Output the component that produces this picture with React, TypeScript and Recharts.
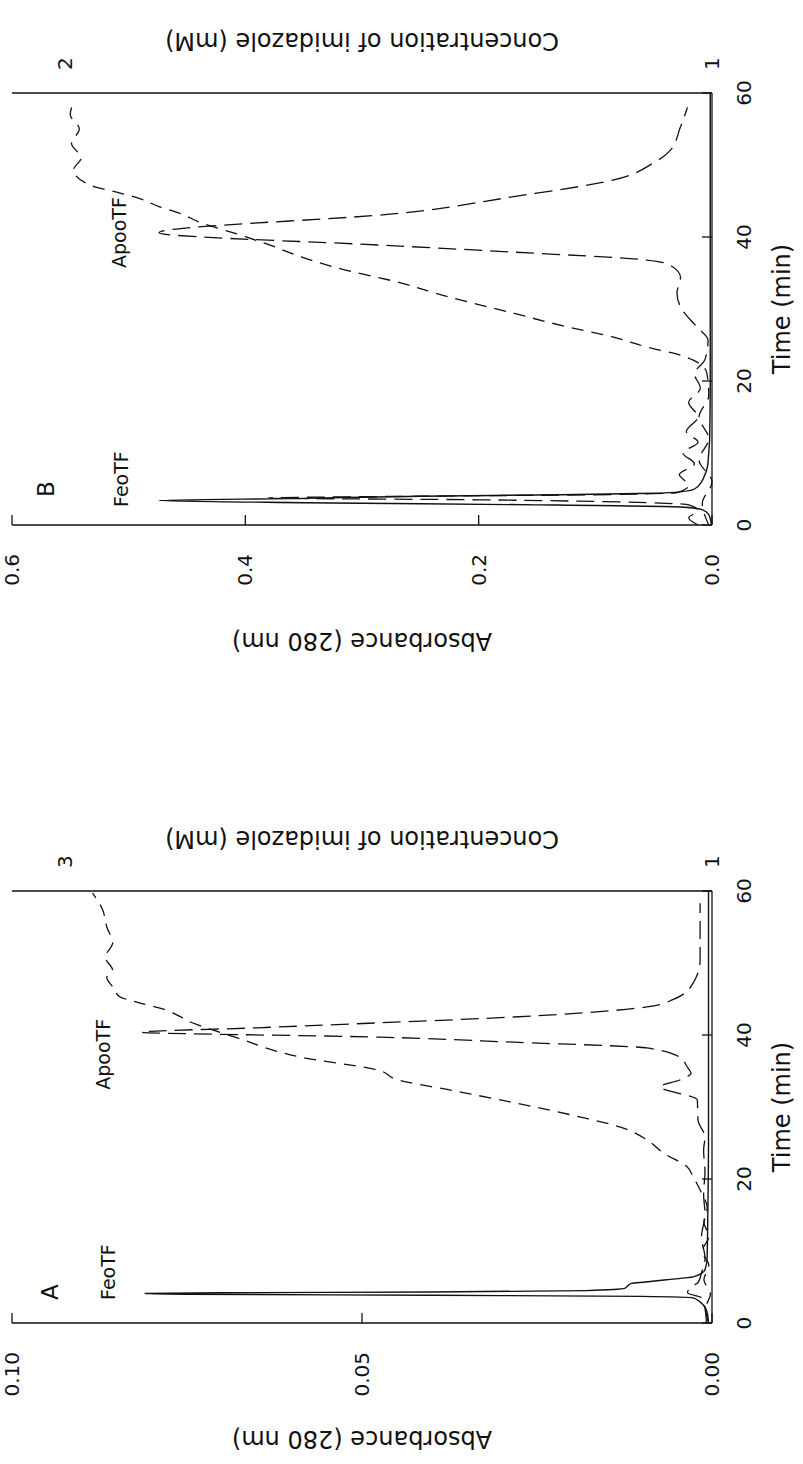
import React from 'react';
import { LineChart, Line, XAxis, YAxis, ReferenceDot } from 'recharts';

// Panel A (imidazole gradient 1 -> 3 mM)
const timeFeoA = [0, 1.5, 2.2, 3.0, 3.5, 3.7, 3.85, 4.0, 4.1, 4.2, 4.3, 4.5, 4.8, 5.2, 5.5, 5.7, 6.0, 6.4, 7.4, 9, 15, 25, 35, 45, 60];
const absFeoA = [0.0005, 0.0007, 0.001, 0.0018, 0.0027, 0.01, 0.04, 0.075, 0.081, 0.07, 0.04, 0.018, 0.0125, 0.012, 0.0115, 0.0095, 0.0065, 0.0027, 0.001, 0.0007, 0.0006, 0.0005, 0.0005, 0.0005, 0.0005];

const timeApoA = [0, 2, 3.5, 4.2, 5, 5.6, 7, 9, 12, 15, 18, 21, 24, 25.8, 28.2, 31, 32.8, 33.75, 34.7, 35.5, 36.9, 38.2, 39.0, 39.7, 40.4, 41.0, 41.7, 42.5, 43.9, 44.9, 47.2, 50.4, 55, 58.3];
const absApoA = [0.0008, 0.001, 0.0015, 0.0035, 0.003, 0.002, 0.0015, 0.001, 0.0015, 0.001, 0.0012, 0.001, 0.0012, 0.001, 0.002, 0.0021, 0.0074, 0.0046, 0.003, 0.0035, 0.0046, 0.0093, 0.0283, 0.0473, 0.0815, 0.065, 0.0473, 0.0283, 0.0093, 0.0056, 0.0027, 0.0017, 0.0017, 0.0017];

const timeGradA = [0, 2, 4, 6, 8, 10, 12, 14, 16, 18.5, 20.3, 21.7, 23.6, 25.4, 27.2, 28.6, 30.6, 32.4, 33.75, 35.1, 36.9, 39.7, 41.7, 43.5, 44.6, 45.3, 46.7, 48, 49, 50.8, 52.8, 55, 57.4, 59.7];
const concGradA = [1.01, 1.02, 1.005, 1.025, 1.01, 1.03, 1.01, 1.025, 1.015, 1.037, 1.058, 1.077, 1.15, 1.2, 1.283, 1.406, 1.612, 1.815, 1.97, 2.03, 2.268, 2.474, 2.606, 2.69, 2.78, 2.83, 2.852, 2.87, 2.852, 2.875, 2.852, 2.87, 2.883, 2.914];

// Panel B (imidazole gradient 1 -> 2 mM)
const timeFeoB = [0, 0.5, 1.5, 2.1, 2.5, 2.8, 3.1, 3.4, 3.7, 4.0, 4.2, 4.4, 4.6, 5, 6, 7, 8, 10, 12, 20, 30, 40, 50, 60];
const absFeoB = [0.0005, 0.001, 0.003, 0.008, 0.027, 0.15, 0.35, 0.474, 0.35, 0.25, 0.13, 0.05, 0.027, 0.015, 0.009, 0.006, 0.004, 0.0028, 0.002, 0.0015, 0.0015, 0.0015, 0.0015, 0.0015];

const timeApoB = [0, 1, 2, 2.8, 3.2, 3.5, 3.75, 4.0, 4.2, 4.5, 5.5, 7, 8.5, 10, 11.5, 13, 15, 17, 19, 21, 23, 25.7, 27.5, 30.3, 32.2, 34.4, 36.1, 36.8, 37.9, 38.8, 40.6, 43.3, 45.6, 47.9, 50.3, 52, 55.3, 58];
const absApoB = [0.012, 0.02, 0.012, 0.02, 0.08, 0.2, 0.38, 0.25, 0.1, 0.03, 0.02, 0.028, 0.015, 0.025, 0.012, 0.022, 0.012, 0.02, 0.01, 0.015, 0.006, 0.0034, 0.013, 0.027, 0.03, 0.027, 0.036, 0.056, 0.17, 0.275, 0.474, 0.267, 0.17, 0.085, 0.05, 0.036, 0.027, 0.021];

const timeGradB = [0, 3, 6, 9, 12, 15, 18, 21.1, 22.9, 23.6, 24.7, 26.1, 27.5, 29.4, 31.7, 33.6, 35.8, 37.2, 38.9, 40.5, 41.9, 43.3, 44.2, 45.5, 46.1, 47.2, 49.3, 51, 53, 55, 57, 59];
const concGradB = [1.005, 1.015, 1.0, 1.02, 1.005, 1.02, 1.005, 1.008, 1.029, 1.049, 1.1, 1.152, 1.223, 1.306, 1.408, 1.48, 1.583, 1.634, 1.684, 1.737, 1.788, 1.823, 1.854, 1.89, 1.915, 1.961, 1.987, 1.975, 1.99, 1.978, 1.992, 1.985];

const timeTicks = [0, 20, 40, 60];
const absTicksA = [0, 0.05, 0.1];
const absTicksB = [0, 0.2, 0.4, 0.6];
const concTicksA = [1, 3];
const concTicksB = [1, 2];

const INK = '#111';

const pts = (xs: number[], ys: number[]) => xs.map((t, i) => ({ t, v: ys[i] }));

type Note = { text: string; t: number; a: number; size: number };

type PanelProps = {
  feo: { t: number; v: number }[];
  apo: { t: number; v: number }[];
  grad: { t: number; v: number }[];
  absMax: number;
  absTicks: number[];
  digits: number;
  concMax: number;
  concTicks: number[];
  notes: Note[];
};

function Panel({ feo, apo, grad, absMax, absTicks, digits, concMax, concTicks, notes }: PanelProps) {
  return (
    <LineChart width={666} height={803} margin={{ top: 12, right: 0, bottom: 0, left: 0 }}>
      <XAxis
        xAxisId="bottom"
        dataKey="t"
        type="number"
        domain={[0, 60]}
        ticks={timeTicks}
        interval={0}
        height={91}
        tickSize={-10}
        tickMargin={35}
        axisLine={{ stroke: INK, strokeWidth: 1.3 }}
        tickLine={{ stroke: INK, strokeWidth: 1.3 }}
        tick={{ fontSize: 20, fill: INK }}
        label={{ value: 'Time (min)', position: 'insideBottom', offset: 13, fontSize: 24, fill: INK }}
      />
      <XAxis
        xAxisId="top"
        orientation="top"
        dataKey="t"
        type="number"
        domain={[0, 60]}
        ticks={[20, 40]}
        interval={0}
        height={0}
        tickSize={-10}
        tickFormatter={() => ''}
        axisLine={{ stroke: INK, strokeWidth: 1.3 }}
        tickLine={{ stroke: INK, strokeWidth: 1.3 }}
      />
      <YAxis
        yAxisId="abs"
        type="number"
        domain={[0, absMax]}
        ticks={absTicks}
        interval={0}
        width={141}
        tickSize={-10}
        tickMargin={39}
        tickFormatter={(v: number) => v.toFixed(digits)}
        axisLine={{ stroke: INK, strokeWidth: 1.3 }}
        tickLine={{ stroke: INK, strokeWidth: 1.3 }}
        tick={{ fontSize: 20, fill: INK }}
        label={{ value: 'Absorbance (280 nm)', angle: -90, position: 'insideLeft', offset: 24, fontSize: 24, fill: INK, style: { textAnchor: 'middle' } }}
      />
      <YAxis
        yAxisId="conc"
        orientation="right"
        type="number"
        domain={[1, concMax]}
        ticks={concTicks}
        interval={0}
        width={93}
        tickSize={0}
        tickMargin={23}
        tickLine={false}
        axisLine={{ stroke: INK, strokeWidth: 1.3 }}
        tick={{ fontSize: 20, fill: INK }}
        label={{ value: 'Concentration of imidazole (mM)', angle: -90, position: 'insideRight', offset: 42, fontSize: 24, fill: INK, style: { textAnchor: 'middle' } }}
      />
      <Line xAxisId="bottom" yAxisId="conc" data={grad} dataKey="v" type="monotone" stroke={INK} strokeWidth={1.3} strokeDasharray="12 8" dot={false} isAnimationActive={false} />
      <Line xAxisId="bottom" yAxisId="abs" data={apo} dataKey="v" type="monotone" stroke={INK} strokeWidth={1.3} strokeDasharray="18 8" dot={false} isAnimationActive={false} />
      <Line xAxisId="bottom" yAxisId="abs" data={feo} dataKey="v" type="monotone" stroke={INK} strokeWidth={1.4} dot={false} isAnimationActive={false} />
      {notes.map((n) => (
        <ReferenceDot
          key={n.text}
          xAxisId="bottom"
          yAxisId="abs"
          x={n.t}
          y={n.a}
          r={0}
          fill="none"
          stroke="none"
          label={{ value: n.text, position: 'right', offset: 0, fontSize: n.size, fill: INK }}
        />
      ))}
    </LineChart>
  );
}

const notesA: Note[] = [
  { text: 'A', t: 3.2, a: 0.0946, size: 23 },
  { text: 'FeoTF', t: 3.2, a: 0.0862, size: 19 },
  { text: 'ApooTF', t: 32.4, a: 0.0869, size: 19 },
];
const notesB: Note[] = [
  { text: 'B', t: 3.9, a: 0.571, size: 23 },
  { text: 'FeoTF', t: 2.5, a: 0.506, size: 19 },
  { text: 'ApooTF', t: 35.7, a: 0.508, size: 19 },
];

export default function App() {
  return (
    <div style={{ position: 'absolute', left: 0, top: 0, width: 803, height: 1464, overflow: 'hidden', background: '#fff' }}>
      <div
        style={{
          position: 'absolute',
          left: 0,
          top: 0,
          width: 1464,
          height: 803,
          transformOrigin: '0 0',
          transform: 'translateY(1464px) rotate(-90deg)',
          fontFamily: '"DejaVu Sans", sans-serif',
        }}
      >
        <div style={{ position: 'absolute', left: 0, top: 0 }}>
          <Panel
            feo={pts(timeFeoA, absFeoA)}
            apo={pts(timeApoA, absApoA)}
            grad={pts(timeGradA, concGradA)}
            absMax={0.1}
            absTicks={absTicksA}
            digits={2}
            concMax={3.163}
            concTicks={concTicksA}
            notes={notesA}
          />
        </div>
        <div style={{ position: 'absolute', left: 798, top: 0 }}>
          <Panel
            feo={pts(timeFeoB, absFeoB)}
            apo={pts(timeApoB, absApoB)}
            grad={pts(timeGradB, concGradB)}
            absMax={0.6}
            absTicks={absTicksB}
            digits={1}
            concMax={2.082}
            concTicks={concTicksB}
            notes={notesB}
          />
        </div>
      </div>
    </div>
  );
}
